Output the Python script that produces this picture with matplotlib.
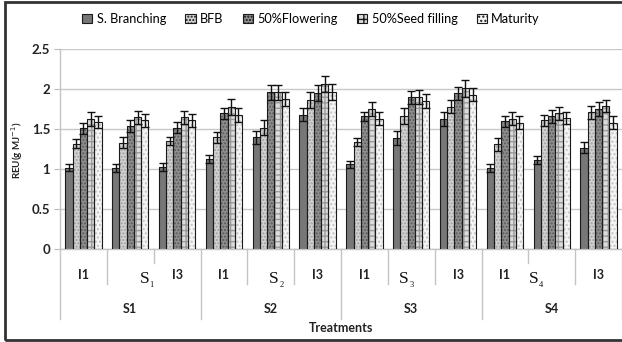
import numpy as np
import matplotlib
matplotlib.use("Agg")
import matplotlib.pyplot as plt
from matplotlib.patches import Rectangle, Patch

plt.rcParams['font.family'] = ['Lato', 'DejaVu Sans']

series = ["S. Branching", "BFB", "50%Flowering", "50%Seed filling", "Maturity"]
groups = ["I1", "I2", "I3"] * 4
sowings = ["S1", "S2", "S3", "S4"]
sub_labels = ["1", "2", "3", "4"]
sub_pos = [1.30, 4.07, 6.85, 9.62]

# one row per treatment group, columns follow `series`
reu = np.array([
    [1.02, 1.32, 1.51, 1.63, 1.59],
    [1.01, 1.33, 1.54, 1.65, 1.61],
    [1.03, 1.35, 1.52, 1.65, 1.61],
    [1.13, 1.40, 1.70, 1.78, 1.68],
    [1.40, 1.52, 1.96, 1.96, 1.88],
    [1.68, 1.87, 1.95, 2.06, 1.96],
    [1.06, 1.34, 1.66, 1.75, 1.63],
    [1.39, 1.66, 1.90, 1.90, 1.85],
    [1.63, 1.78, 1.95, 2.01, 1.93],
    [1.02, 1.31, 1.60, 1.63, 1.58],
    [1.11, 1.61, 1.66, 1.70, 1.64],
    [1.27, 1.71, 1.75, 1.79, 1.58],
])
err = np.array([
    [0.04, 0.06, 0.07, 0.09, 0.08],
    [0.05, 0.07, 0.08, 0.08, 0.08],
    [0.05, 0.05, 0.07, 0.08, 0.08],
    [0.05, 0.07, 0.07, 0.10, 0.09],
    [0.08, 0.09, 0.09, 0.09, 0.09],
    [0.08, 0.10, 0.10, 0.10, 0.10],
    [0.04, 0.05, 0.06, 0.09, 0.08],
    [0.09, 0.10, 0.08, 0.09, 0.09],
    [0.09, 0.08, 0.08, 0.11, 0.08],
    [0.05, 0.08, 0.07, 0.08, 0.08],
    [0.05, 0.07, 0.08, 0.08, 0.08],
    [0.07, 0.08, 0.09, 0.08, 0.08],
])

faces = ['#777777', '#d2d2d2', '#8e8e8e', '#dcdcdc', '#f4f4f4']
hatch_cols = ['#777777', '#a0a0a0', '#5a5a5a', '#9a9a9a', '#c4c4c4']
hatches = [None, '.....', '.....', '+++', '....']

fig = plt.figure(figsize=(6.22, 3.42), dpi=100)
ax = fig.add_axes([0.0965, 0.271, 0.9035, 0.585])

x = np.arange(len(groups))
w = 0.155
for j in range(len(series)):
    xs = x + (j - 2) * w
    ax.bar(xs, reu[:, j], w, color=faces[j], edgecolor=hatch_cols[j],
           hatch=hatches[j], linewidth=0, zorder=2)
    ax.bar(xs, reu[:, j], w, fill=False, edgecolor='#1a1a1a', linewidth=0.8, zorder=3)
    ax.errorbar(xs, reu[:, j], yerr=err[:, j], fmt='none', ecolor='#111111',
                elinewidth=1.0, capsize=2.6, capthick=1.0, zorder=4)

ax.set_xlim(-0.5, len(groups) - 0.5)
ax.set_ylim(0, 2.5)
ax.set_yticks([0, 0.5, 1, 1.5, 2, 2.5])
ax.set_yticklabels(['0', '0.5', '1', '1.5', '2', '2.5'], fontsize=9.5, fontweight='bold', color='#222222')
ax.yaxis.grid(True, color='#c8c8c8', linewidth=1.0, zorder=0)
ax.set_axisbelow(True)
ax.tick_params(axis='y', length=4, color='#bbbbbb', pad=3)
ax.set_xticks([])
for s in ['top', 'right']:
    ax.spines[s].set_visible(False)
for s in ['left', 'bottom']:
    ax.spines[s].set_color('#c4c4c4')
    ax.spines[s].set_linewidth(1.0)

trans = ax.get_xaxis_transform()
# separators under the axis
for k in range(len(groups) + 1):
    xb = k - 0.5
    if k % 3 == 0:
        depth = -0.35
    elif k in (2, 10):
        depth = -0.07
    else:
        depth = -0.174
    ax.plot([xb, xb], [0, depth], transform=trans, color='#c4c4c4', lw=1.0, clip_on=False)

for i, g in enumerate(groups):
    if g != "I2":
        ax.text(i, -0.128, g, transform=trans, ha='center', va='center',
                fontsize=9, fontweight='bold', color='#222222')

for i, s in enumerate(sowings):
    ax.text(3 * i + 1, -0.30, s, transform=trans, ha='center', va='center',
            fontsize=9, fontweight='bold', color='#222222')
    ax.text(sub_pos[i], -0.15, 'S', transform=trans, ha='center', va='center',
            fontsize=12.5, family='Liberation Serif', color='#111111')
    ax.annotate(sub_labels[i], (sub_pos[i], -0.15), xycoords=trans, xytext=(5.2, -4),
                textcoords='offset points', ha='center', va='center',
                fontsize=6, family='Liberation Serif', color='#111111')

ax.text(0.5, -0.395, 'Treatments', transform=ax.transAxes, ha='center', va='center',
        fontsize=9, fontweight='bold', color='#222222')

fig.text(17 / 622, 0.56, r'REU(g MJ$^{-1}$)', rotation=90, ha='center', va='center',
         fontsize=7, fontweight='bold', color='#222222')

handles = [Patch(facecolor=faces[j], edgecolor='#1a1a1a', hatch=hatches[j], linewidth=0.8)
           for j in range(len(series))]
fig.legend(handles, series, loc='center', bbox_to_anchor=(0.5, 1 - 19 / 342), ncol=5,
           frameon=False, fontsize=9.2, handlelength=0.8, handleheight=0.8,
           handletextpad=0.35, columnspacing=1.5)

fig.patches.append(Rectangle((5 / 622, 2 / 342), 1.2, 1 - 4 / 342, transform=fig.transFigure,
                             fill=False, edgecolor='#333333', linewidth=2.0))

fig.savefig('out.png', dpi=100)
